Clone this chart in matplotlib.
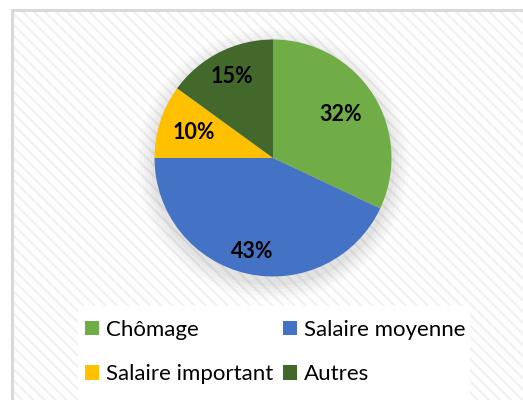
import matplotlib
matplotlib.use('Agg')

import matplotlib.pyplot as plt
from matplotlib.patches import Rectangle, Circle, Patch
import numpy as np

labels = ['Chômage', 'Salaire moyenne', 'Salaire important', 'Autres']
values = [32, 43, 10, 15]
colors = ['#70ad47', '#4472c4', '#ffc000', '#43682b']
# distance of each percentage label from the centre (fraction of radius)
label_dist = [0.68, 0.81, 0.70, 0.77]

W, H = 523, 400
fig = plt.figure(figsize=(W / 100, H / 100), dpi=100)
fig.patch.set_facecolor('white')

# chart area: gray border + diagonal stripes
plt.rcParams['hatch.linewidth'] = 1.6
bg = Rectangle((11.5 / W, -0.05), 1.2, 1 - 9.5 / H + 0.05, transform=fig.transFigure,
               facecolor='white', edgecolor='#f1f1f1', hatch='\\\\\\', linewidth=0, zorder=0)
fig.patches.append(bg)
border = Rectangle((11.5 / W, -0.05), 1.2, 1 - 9.5 / H + 0.05, transform=fig.transFigure,
                   facecolor='none', edgecolor='#d9d9d9', linewidth=2.2, zorder=1)
fig.patches.append(border)

# legend white box
lbox = Rectangle((78 / W, -0.05), (470 - 78) / W, 1 - 306 / H + 0.05, transform=fig.transFigure,
                 facecolor='white', edgecolor='none', zorder=2)
fig.patches.append(lbox)

cx, cy, r = 273, 158, 118.5
ax = fig.add_axes([(cx - r) / W, (H - cy - r) / H, 2 * r / W, 2 * r / H])
ax.set_facecolor('none')
ax.set_zorder(5)

# soft shadow under the pie
for i, a in enumerate([0.015, 0.02, 0.02, 0.025, 0.03]):
    ax.add_patch(Circle((0, -0.05), 1.0 + 0.03 * (5 - i), color='black', alpha=a,
                        linewidth=0, zorder=0, clip_on=False))

wedges, _ = ax.pie(values, colors=colors, startangle=90, counterclock=False,
                   radius=1.0, wedgeprops=dict(linewidth=0))
for w in wedges:
    w.set_zorder(3)

for w, v, d in zip(wedges, values, label_dist):
    ang = np.deg2rad((w.theta1 + w.theta2) / 2)
    ax.text(d * np.cos(ang), d * np.sin(ang), '{}%'.format(v), ha='center', va='center',
            fontsize=15.5, fontweight='bold', family=['Lato', 'DejaVu Sans'], color='black',
            zorder=5)

ax.set_xlim(-1, 1)
ax.set_ylim(-1, 1)
ax.set_aspect('equal')
ax.axis('off')

# legend: row order Chômage, Salaire moyenne / Salaire important, Autres
handles = [Patch(facecolor=c, edgecolor='none') for c in colors]
order = [0, 2, 1, 3]
leg = fig.legend([handles[i] for i in order], [labels[i] for i in order], ncol=2,
                 loc='center', bbox_to_anchor=(275 / W, 1 - 352 / H),
                 frameon=False, prop={'family': ['Lato', 'DejaVu Sans'], 'size': 16},
                 handlelength=0.65, handleheight=0.65, handletextpad=0.3,
                 columnspacing=0.45, labelspacing=1.1)
leg.set_zorder(6)

plt.savefig('out.png', dpi=100)
